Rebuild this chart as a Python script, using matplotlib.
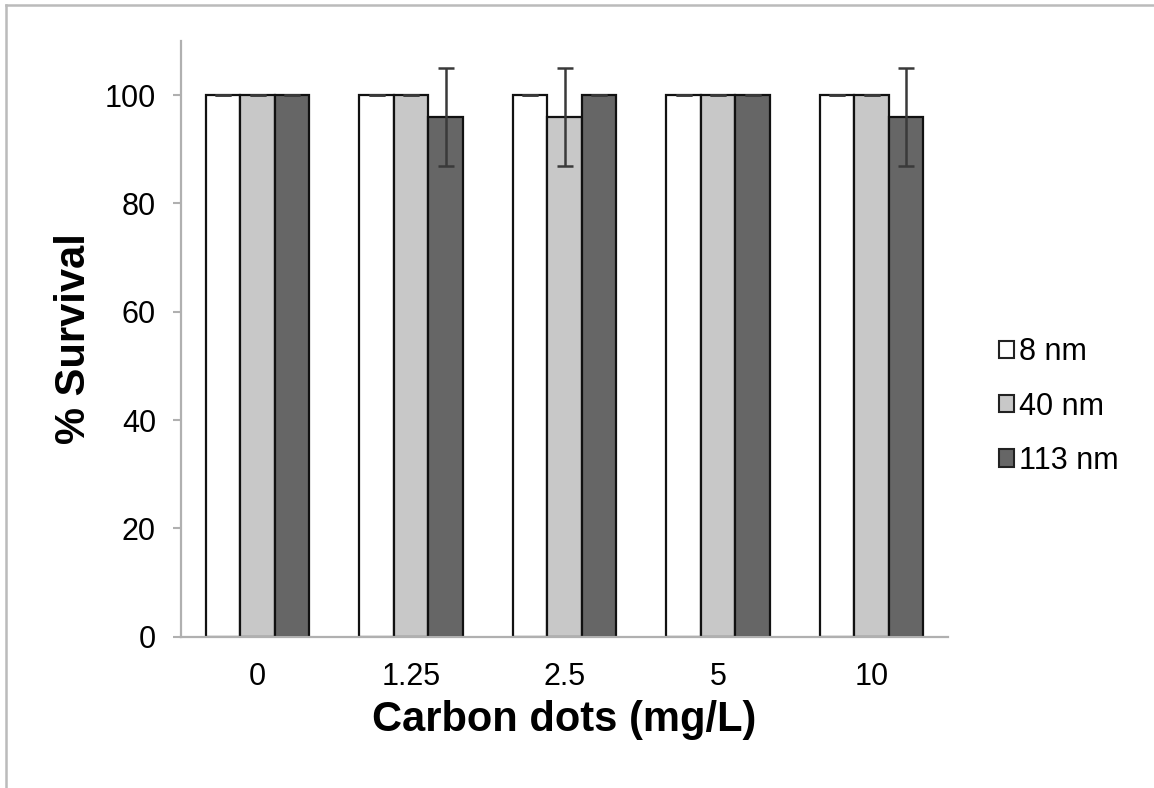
import matplotlib
matplotlib.use("Agg")
import matplotlib.pyplot as plt
import numpy as np
from matplotlib.patches import Patch
from matplotlib.lines import Line2D

plt.rcParams['font.family'] = ['Liberation Sans', 'DejaVu Sans']

categories = ["0", "1.25", "2.5", "5", "10"]
series_names = ["8 nm", "40 nm", "113 nm"]
values_8nm = [100, 100, 100, 100, 100]
values_40nm = [100, 100, 96, 100, 100]
values_113nm = [100, 96, 100, 100, 96]
err_8nm = [0, 0, 0, 0, 0]
err_40nm = [0, 0, 9, 0, 0]
err_113nm = [0, 9, 0, 0, 9]
colors = ["#ffffff", "#c8c8c8", "#666666"]

fig = plt.figure(figsize=(11.54, 7.88), dpi=100)
ax = fig.add_axes([0.1568, 0.192, 0.665, 0.756])

x = np.arange(len(categories))
w = 0.225
series = [values_8nm, values_40nm, values_113nm]
errs = [err_8nm, err_40nm, err_113nm]
for i, (vals, e, c) in enumerate(zip(series, errs, colors)):
    pos = x + (i - 1) * w
    ax.bar(pos, vals, width=w, color=c, edgecolor="#111111", linewidth=1.6, zorder=2)
    ax.errorbar(pos, vals, yerr=e, fmt='none', ecolor="#3a3a3a", elinewidth=1.8,
                capsize=6, capthick=1.8, zorder=3)

ax.set_xlim(-0.5, len(categories) - 0.5)
ax.set_ylim(0, 110)
ax.set_yticks([0, 20, 40, 60, 80, 100])
ax.set_xticks(x)
ax.set_xticklabels(categories)
ax.tick_params(axis='x', length=0, pad=18, labelsize=22)
ax.tick_params(axis='y', length=6, width=1.5, color="#b0b0b0", direction='out', pad=12, labelsize=22)
for s in ['top', 'right']:
    ax.spines[s].set_visible(False)
for s in ['left', 'bottom']:
    ax.spines[s].set_color("#b0b0b0")
    ax.spines[s].set_linewidth(1.6)

ax.set_ylabel("% Survival", fontsize=30, fontweight='bold', labelpad=8)
ax.set_xlabel("Carbon dots (mg/L)", fontsize=30, fontweight='bold', labelpad=6)

handles = [Patch(facecolor=c, edgecolor="#222222", linewidth=1.5) for c in colors]
fig.legend(handles, series_names, loc='center left', bbox_to_anchor=(0.855, 0.484),
           frameon=False, fontsize=22, handlelength=0.5, handleheight=0.5,
           handletextpad=0.15, labelspacing=0.8, borderaxespad=0)

fig.add_artist(Line2D([6/1154, 6/1154], [0, 1 - 5/788], transform=fig.transFigure,
                      color="#bbbbbb", linewidth=1.8))
fig.add_artist(Line2D([6/1154, 1], [1 - 5/788, 1 - 5/788], transform=fig.transFigure,
                      color="#bbbbbb", linewidth=1.8))

fig.savefig("out.png", dpi=100)
